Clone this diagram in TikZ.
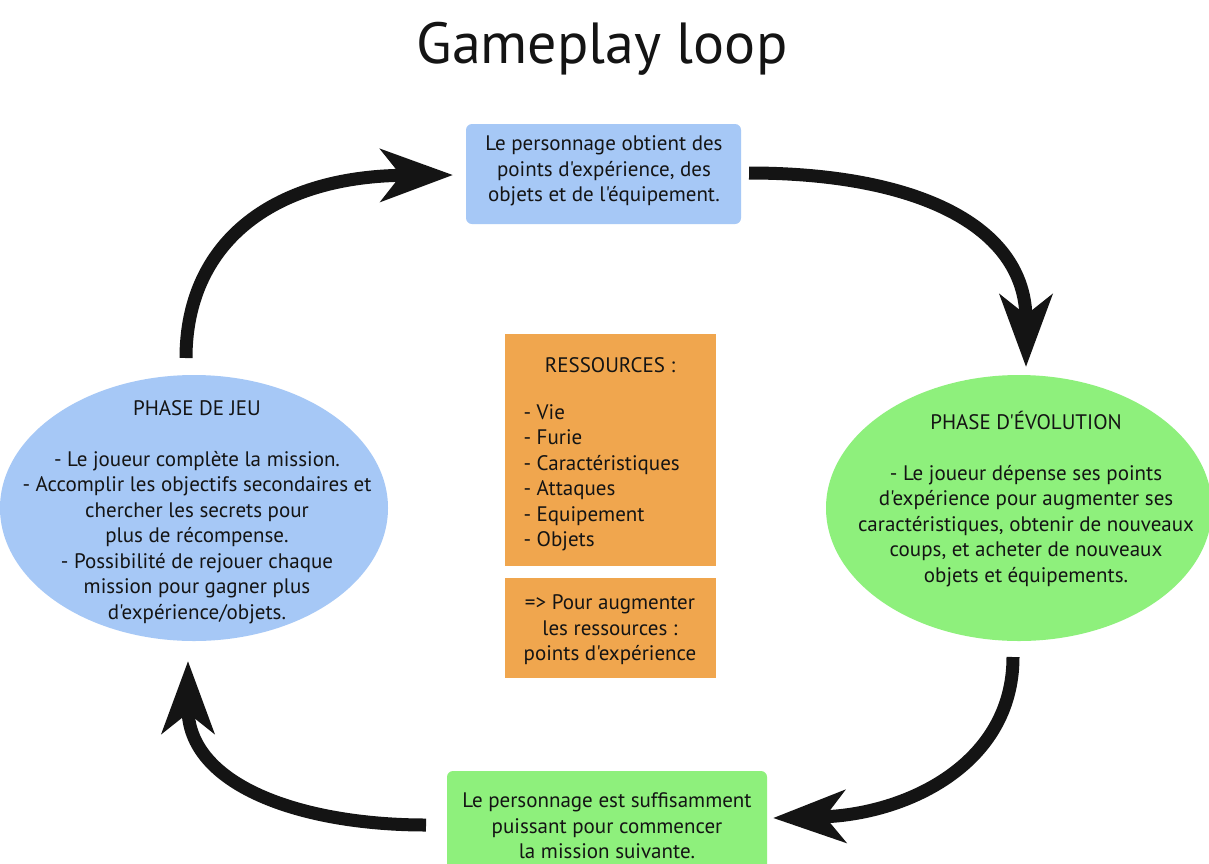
\documentclass[tikz,border=0pt]{standalone}
\usepackage{fontspec}
\newfontfamily\pfont{PT Sans}
\usetikzlibrary{arrows.meta,shapes.geometric}
\definecolor{boxblue}{HTML}{A6C8F6}
\definecolor{boxgreen}{HTML}{8EF07C}
\definecolor{boxorange}{HTML}{F0A64E}
\definecolor{txt}{HTML}{141414}
\tikzset{
  bodytext/.style={font=\pfont\fontsize{21}{25.5}\selectfont, text=txt, align=center},
  rbox/.style={rounded corners=6pt, inner sep=0pt},
  loop arrow/.style={line width=13pt, draw=txt,
    -{Stealth[length=72pt,width=52pt,inset=20pt]}}
}
\begin{document}
\begin{tikzpicture}[x=1pt,y=-1pt]
\useasboundingbox (0,0) rectangle (1209,863);
\fill[white] (0,0) rectangle (1209,863);
% title
\node[font=\pfont\fontsize{58}{64}\selectfont, text=txt] (title) at (602,49) {Gameplay loop};
% top box
\fill[boxblue, rbox] (466,124) rectangle (741,224);
\node[bodytext] (top) at (604,171) {Le personnage obtient des\\points d'expérience, des\\objets et de l'équipement.};
% bottom box
\fill[boxgreen, rbox] (447,771) rectangle (767,880);
\node[bodytext] (bot) at (607,826) {Le personnage est suffisamment\\puissant pour commencer\\la mission suivante.};
% ellipses
\node[ellipse, fill=boxblue, minimum width=388pt, minimum height=266pt, inner sep=0pt] (jeu) at (194,508) {};
\node[bodytext] (jeutext) at (197,512) {PHASE DE JEU\\[25.5pt]- Le joueur complète la mission.\\- Accomplir les objectifs secondaires et\\chercher les secrets pour\\plus de récompense.\\- Possibilité de rejouer chaque\\mission pour gagner plus\\d'expérience/objets.};
\node[ellipse, fill=boxgreen, minimum width=386pt, minimum height=266pt, inner sep=0pt] (evo) at (1019,508) {};
\node[bodytext] (evotext) at (1026,499) {PHASE D'ÉVOLUTION\\[25.5pt]- Le joueur dépense ses points\\d'expérience pour augmenter ses\\caractéristiques, obtenir de nouveaux\\coups, et acheter de nouveaux\\objets et équipements.};
% orange boxes
\fill[boxorange] (505,334) rectangle (716,566);
\node[bodytext] (res) at (610,365) {RESSOURCES :};
\node[bodytext, align=left, anchor=north west] (list) at (520,401) {- Vie\\- Furie\\- Caractéristiques\\- Attaques\\- Equipement\\- Objets};
\fill[boxorange] (505,578) rectangle (716,678);
\node[bodytext] (aug) at (610,630) {=> Pour augmenter\\les ressources :\\points d'expérience};
% arrows
\coordinate (a1s) at (186,358);
\coordinate (a1e) at (453,175);
\coordinate (a2s) at (749,173);
\coordinate (a2e) at (1026,367);
\coordinate (a3s) at (1013,657);
\coordinate (a3e) at (773,818);
\coordinate (a4s) at (426,825);
\coordinate (a4e) at (188,661);
\draw[loop arrow] (a1s) .. controls (186,245) and (270,176) .. (a1e);
\draw[loop arrow] (a2s) .. controls (915,173) and (1026,225) .. (a2e);
\draw[loop arrow] (a3s) .. controls (1013,765) and (905,815) .. (a3e);
\draw[loop arrow] (a4s) .. controls (300,825) and (188,785) .. (a4e);
\end{tikzpicture}
\end{document}
